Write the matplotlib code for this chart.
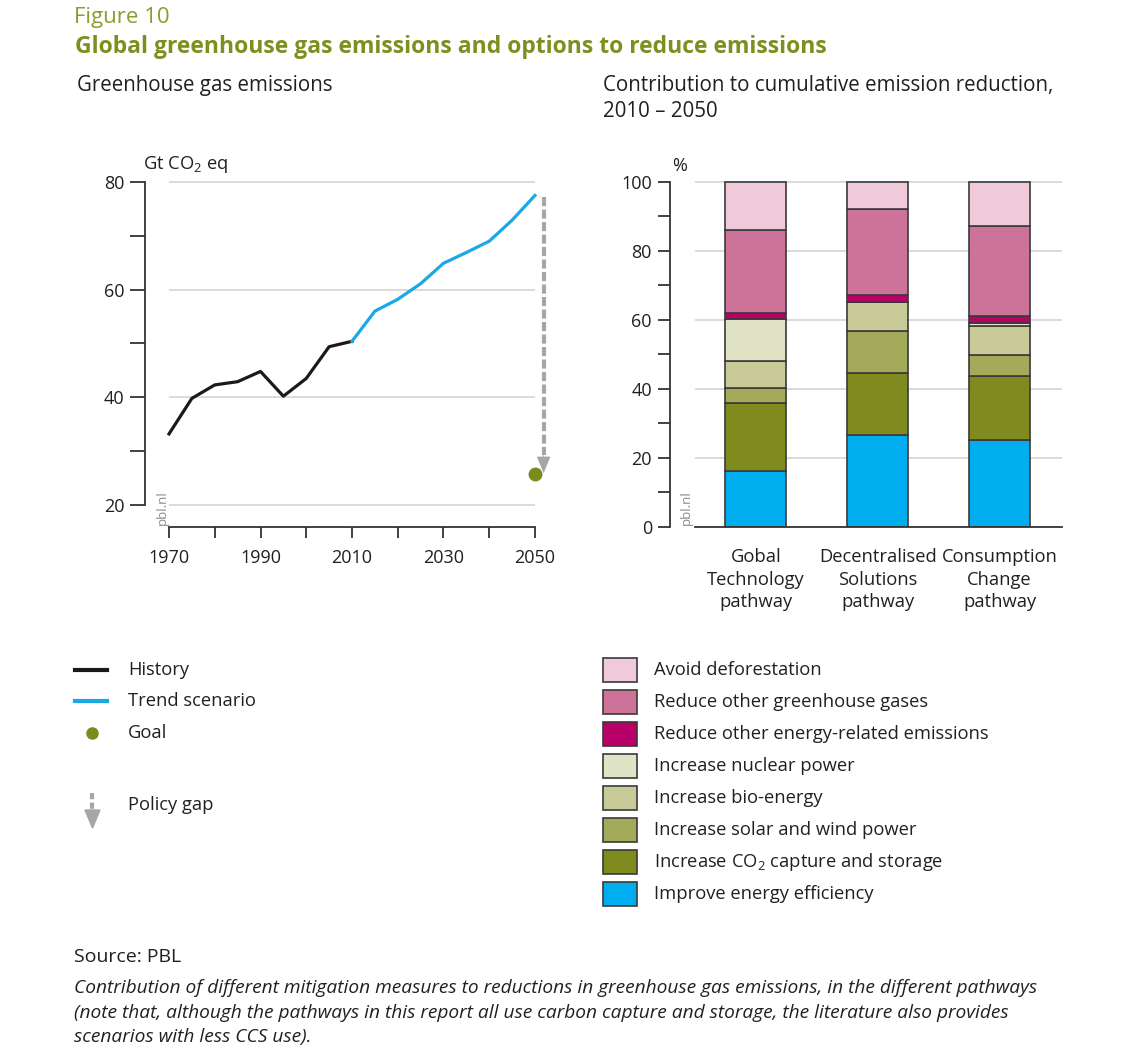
import matplotlib.pyplot as plt
from matplotlib.patches import Rectangle
from matplotlib.lines import Line2D

plt.rcParams['font.family'] = ['Open Sans', 'DejaVu Sans']
plt.rcParams['mathtext.fontset'] = 'custom'
plt.rcParams['mathtext.rm'] = 'Open Sans'
plt.rcParams['mathtext.default'] = 'regular'

# --- data ---
hist_years = [1970, 1975, 1980, 1985, 1990, 1995, 2000, 2005, 2010]
hist_values = [33.2, 39.8, 42.3, 42.9, 44.8, 40.2, 43.5, 49.4, 50.4]
trend_years = [2010, 2015, 2020, 2025, 2030, 2035, 2040, 2045, 2050]
trend_values = [50.4, 56.0, 58.2, 61.1, 64.9, 66.9, 69.0, 72.9, 77.5]
goal_year = 2050
goal_value = 25.7

pathways = ['Gobal\nTechnology\npathway', 'Decentralised\nSolutions\npathway',
            'Consumption\nChange\npathway']
measures = ['Improve energy efficiency', 'Increase CO$_2$ capture and storage',
            'Increase solar and wind power', 'Increase bio-energy',
            'Increase nuclear power', 'Reduce other energy-related emissions',
            'Reduce other greenhouse gases', 'Avoid deforestation']
efficiency = [16.1, 26.8, 25.3]
ccs = [19.8, 17.8, 18.6]
solar_wind = [4.3, 12.3, 5.9]
bio_energy = [8.0, 8.3, 8.3]
nuclear = [12.1, 0.0, 1.1]
other_energy = [1.6, 2.0, 2.0]
other_ghg = [24.3, 24.9, 26.0]
deforestation = [13.8, 7.9, 12.8]
shares = [efficiency, ccs, solar_wind, bio_energy, nuclear, other_energy, other_ghg, deforestation]
colors = ['#00aeef', '#7f8b1e', '#a3ab5a', '#c8cb97', '#e0e3c5', '#b80068', '#cd7299', '#f0cadb']

W, H = 1125, 1054
TXT = '#231f20'
OLIVE = '#7f8f1f'
GRID = '#d4d4d4'
GAP = '#a6a6a6'


def fx(px):
    return px / W


def fy(py):
    return 1 - py / H


fig = plt.figure(figsize=(W / 100, H / 100), dpi=100)

# headings
fig.text(fx(74), fy(17), 'Figure 10', color='#8c9c2c', fontsize=16, va='center')
fig.text(fx(75), fy(47), 'Global greenhouse gas emissions and options to reduce emissions',
         color=OLIVE, fontsize=16.5, fontweight='bold', va='center')
fig.text(fx(77), fy(86), 'Greenhouse gas emissions', color=TXT, fontsize=14.8, va='center')
fig.text(fx(603), fy(86), 'Contribution to cumulative emission reduction,', color=TXT,
         fontsize=14.8, va='center')
fig.text(fx(603), fy(112), '2010 – 2050', color=TXT, fontsize=14.8, va='center')

# --- left: emissions line chart ---
ax1 = fig.add_axes([fx(145), fy(527), fx(548) - fx(145), fy(175) - fy(527)])
ax1.set_xlim(1964.75, 2052.85)
ax1.set_ylim(15.9, 81.3)
ax1.hlines([20, 40, 60, 80], 1970, 2050, color=GRID, lw=1.2, zorder=0)
ax1.plot(hist_years, hist_values, color='#1a1a1a', lw=2.3, zorder=3)
ax1.plot(trend_years, trend_values, color='#1aa9e6', lw=2.3, zorder=3)

# policy gap arrow from trend end down to goal
ax_x = goal_year + 1.9
ax1.plot([ax_x, ax_x], [trend_values[-1] - 0.2, goal_value + 3.5], color=GAP, lw=3,
         linestyle=(0, (2.2, 0.8)), zorder=2, clip_on=False)
ax1.annotate('', xy=(ax_x, goal_value + 0.2), xytext=(ax_x, goal_value + 4.0),
             arrowprops=dict(arrowstyle='-|>,head_length=1.1,head_width=0.45', color=GAP,
                             lw=0.5, shrinkA=0, shrinkB=0), annotation_clip=False)
ax1.plot([goal_year], [goal_value], 'o', color='#7a8c1c', ms=9, zorder=4, clip_on=False)

ax1.spines['top'].set_visible(False)
ax1.spines['right'].set_visible(False)
ax1.spines['left'].set_bounds(20, 80)
ax1.spines['bottom'].set_bounds(1970, 2050)
for s in ['left', 'bottom']:
    ax1.spines[s].set_color('#333333')
    ax1.spines[s].set_linewidth(1.3)
ax1.set_yticks([20, 40, 60, 80])
ax1.set_yticks([30, 50, 70], minor=True)
ax1.set_xticks([1970, 1990, 2010, 2030, 2050])
ax1.set_xticks([1980, 2000, 2020, 2040], minor=True)
ax1.tick_params(axis='y', which='both', length=11, width=1.3, color='#333333',
                labelsize=13, labelcolor=TXT, pad=4)
ax1.tick_params(axis='x', which='both', length=8, width=1.3, color='#333333',
                labelsize=13, labelcolor=TXT, pad=8)
ax1.text(-0.005, 1.0, 'Gt CO$_2$ eq', transform=ax1.transAxes, fontsize=13.2, color=TXT,
         ha='left', va='bottom')
ax1.text(0.026, 0.005, 'pbl.nl', transform=ax1.transAxes, rotation=90, fontsize=9.5,
         color='#8a8a8a', ha='left', va='bottom')

# --- right: stacked bars ---
ax2 = fig.add_axes([fx(670), fy(527), fx(1065) - fx(670), fy(175) - fy(527)])
ax2.set_xlim(-0.705, 2.537)
ax2.set_ylim(0, 102)
ax2.hlines([20, 40, 60, 80, 100], -0.5, 2.51, color=GRID, lw=1.2, zorder=0)
pos = list(range(len(pathways)))
bottom = [0.0] * len(pathways)
for vals, col, lab in zip(shares, colors, measures):
    ax2.bar(pos, vals, width=0.5, bottom=bottom, color=col, edgecolor='#3a3a3a',
            linewidth=1.2, label=lab, zorder=2)
    bottom = [b + v for b, v in zip(bottom, vals)]

ax2.spines['top'].set_visible(False)
ax2.spines['right'].set_visible(False)
ax2.spines['left'].set_bounds(0, 100)
ax2.spines['bottom'].set_bounds(-0.5, 2.51)
for s in ['left', 'bottom']:
    ax2.spines[s].set_color('#333333')
    ax2.spines[s].set_linewidth(1.3)
ax2.set_yticks([0, 20, 40, 60, 80, 100])
ax2.set_yticks([10, 30, 50, 70, 90], minor=True)
ax2.tick_params(axis='y', which='both', length=9, width=1.3, color='#333333',
                labelsize=13, labelcolor=TXT, pad=4)
ax2.set_xticks(pos)
ax2.set_xticklabels(pathways, fontsize=13.2, color=TXT, linespacing=1.34)
ax2.tick_params(axis='x', length=0, pad=15)
ax2.text(0.005, 1.0, '%', transform=ax2.transAxes, fontsize=13, color=TXT,
         ha='left', va='bottom')
ax2.text(0.024, 0.005, 'pbl.nl', transform=ax2.transAxes, rotation=90, fontsize=9.5,
         color='#8a8a8a', ha='left', va='bottom')

# --- legends, drawn in figure pixels ---
fig.add_artist(Line2D([fx(75), fx(107)], [fy(670), fy(670)], color='#1a1a1a', lw=3))
fig.add_artist(Line2D([fx(75), fx(107)], [fy(701), fy(701)], color='#1aa9e6', lw=3))
fig.add_artist(Line2D([fx(92)], [fy(733)], marker='o', color='#7a8c1c', ms=8, lw=0))
fig.add_artist(Line2D([fx(92), fx(92)], [fy(793), fy(812)], color=GAP, lw=3,
                      linestyle=(0, (1.5, 0.8))))
fig.add_artist(plt.Polygon([[fx(85), fy(810)], [fx(100), fy(810)], [fx(92.5), fy(828)]],
                           closed=True, color=GAP, transform=fig.transFigure))
for txt, py in zip(['History', 'Trend scenario', 'Goal', 'Policy gap'], [670, 701, 733, 805]):
    fig.text(fx(128), fy(py), txt, fontsize=13.2, color=TXT, va='center')

for i, (lab, col) in enumerate(zip(measures[::-1], colors[::-1])):
    py = 670 + i * 32
    fig.add_artist(Rectangle((fx(603), fy(py + 12)), fx(34), 24 / H, facecolor=col,
                             edgecolor='#3a3a3a', lw=1.2, transform=fig.transFigure))
    fig.text(fx(654), fy(py), lab, fontsize=13.2, color=TXT, va='center')

# --- source and caption ---
fig.text(fx(74), fy(957), 'Source: PBL', fontsize=14, color=TXT, va='center')
caption = ['Contribution of different mitigation measures to reductions in greenhouse gas emissions, in the different pathways',
           '(note that, although the pathways in this report all use carbon capture and storage, the literature also provides',
           'scenarios with less CCS use).']
for i, line in enumerate(caption):
    fig.text(fx(74), fy(988 + i * 24.5), line, fontsize=13.8, style='italic', color=TXT,
             va='center')

fig.savefig('out.png', dpi=100)
